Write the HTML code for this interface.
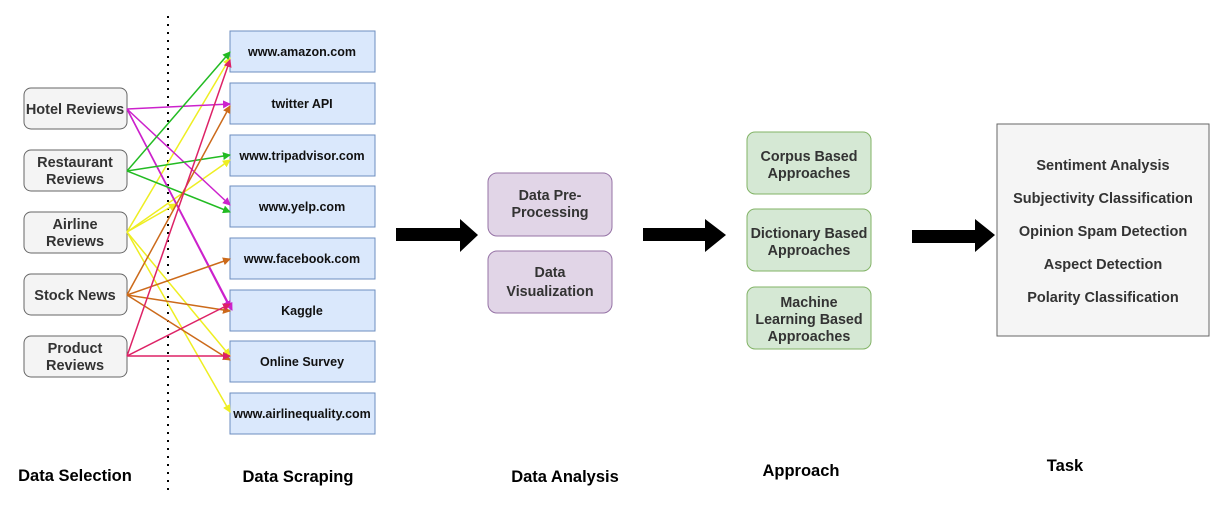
<!DOCTYPE html>
<html><head><style>
body{margin:0;background:#fff;}
svg text{font-family:"Liberation Sans",sans-serif;font-weight:bold;}
</style></head><body>
<svg width="1224" height="505" viewBox="0 0 1224 505" xmlns="http://www.w3.org/2000/svg">
<defs>
<marker id="mg" markerWidth="8" markerHeight="8" refX="7" refY="4" orient="auto" markerUnits="userSpaceOnUse"><path d="M0,0L8,4L0,8z" fill="#22bb22"/></marker>
<marker id="mm" markerWidth="8" markerHeight="8" refX="7" refY="4" orient="auto" markerUnits="userSpaceOnUse"><path d="M0,0L8,4L0,8z" fill="#cc22cc"/></marker>
<marker id="my" markerWidth="8" markerHeight="8" refX="7" refY="4" orient="auto" markerUnits="userSpaceOnUse"><path d="M0,0L8,4L0,8z" fill="#eeee22"/></marker>
<marker id="mo" markerWidth="8" markerHeight="8" refX="7" refY="4" orient="auto" markerUnits="userSpaceOnUse"><path d="M0,0L8,4L0,8z" fill="#cc6a1a"/></marker>
<marker id="mr" markerWidth="8" markerHeight="8" refX="7" refY="4" orient="auto" markerUnits="userSpaceOnUse"><path d="M0,0L8,4L0,8z" fill="#dd2266"/></marker>
</defs>
<line x1="168" y1="16" x2="168" y2="490" stroke="#000" stroke-width="2" stroke-dasharray="2,6"/>
<g font-size="14.5" text-anchor="middle" fill="#333">
<g fill="#f4f4f4" stroke="#666" stroke-width="1">
<rect x="24" y="88" width="103" height="41" rx="7"/>
<rect x="24" y="150" width="103" height="41" rx="7"/>
<rect x="24" y="212" width="103" height="41" rx="7"/>
<rect x="24" y="274" width="103" height="41" rx="7"/>
<rect x="24" y="336" width="103" height="41" rx="7"/>
</g>
<text x="75" y="114">Hotel Reviews</text>
<text x="75" y="167">Restaurant</text><text x="75" y="184">Reviews</text>
<text x="75" y="229">Airline</text><text x="75" y="246">Reviews</text>
<text x="75" y="300">Stock News</text>
<text x="75" y="353">Product</text><text x="75" y="370">Reviews</text>
</g>
<g fill="#dae8fc" stroke="#6c8ebf" stroke-width="1">
<rect x="230" y="31" width="145" height="41"/>
<rect x="230" y="83" width="145" height="41"/>
<rect x="230" y="135" width="145" height="41"/>
<rect x="230" y="186" width="145" height="41"/>
<rect x="230" y="238" width="145" height="41"/>
<rect x="230" y="290" width="145" height="41"/>
<rect x="230" y="341" width="145" height="41"/>
<rect x="230" y="393" width="145" height="41"/>
</g>
<g font-size="12.5" text-anchor="middle" fill="#111">
<text x="302" y="56">www.amazon.com</text>
<text x="302" y="108">twitter API</text>
<text x="302" y="160">www.tripadvisor.com</text>
<text x="302" y="211">www.yelp.com</text>
<text x="302" y="263">www.facebook.com</text>
<text x="302" y="315">Kaggle</text>
<text x="302" y="366">Online Survey</text>
<text x="302" y="418">www.airlinequality.com</text>
</g>
<g fill="none" stroke-width="1.5">
<g stroke="#eeee22" marker-end="url(#my)">
<path d="M127,232L230,58"/><path d="M127,232L230,160"/><path d="M127,232L176,204"/><path d="M127,232L230,356"/><path d="M127,232L230,412"/>
</g>
<g stroke="#cc22cc" marker-end="url(#mm)">
<path d="M127,109L230,104"/><path d="M127,109L230,205"/><path d="M127,109L230,308"/><path d="M127,109L232,310"/>
</g>
<g stroke="#22bb22" marker-end="url(#mg)">
<path d="M127,171L230,52"/><path d="M127,171L230,155"/><path d="M127,171L230,212"/>
</g>
<g stroke="#cc6a1a" marker-end="url(#mo)">
<path d="M127,295L230,106"/><path d="M127,295L230,259"/><path d="M127,295L230,311"/><path d="M127,295L230,360"/>
</g>
<g stroke="#dd2266" marker-end="url(#mr)">
<path d="M127,356L230,60"/><path d="M127,356L230,304"/><path d="M127,356L230,356"/>
</g>
</g>
<g fill="#000">
<path d="M396,228H460V219L478,235L460,252V241H396Z"/>
<path d="M643,228H705V219L726,235L705,252V241H643Z"/>
<path d="M912,230H975V219L995,235L975,252V243H912Z"/>
</g>
<g fill="#e1d5e7" stroke="#9673a6">
<rect x="488" y="173" width="124" height="63" rx="9"/>
<rect x="488" y="251" width="124" height="62" rx="9"/>
</g>
<g fill="#d5e8d4" stroke="#82b366">
<rect x="747" y="132" width="124" height="62" rx="8"/>
<rect x="747" y="209" width="124" height="62" rx="8"/>
<rect x="747" y="287" width="124" height="62" rx="8"/>
</g>
<rect x="997" y="124" width="212" height="212" fill="#f5f5f5" stroke="#666"/>
<g font-size="14.3" text-anchor="middle" fill="#333">
<text x="550" y="200">Data Pre-</text><text x="550" y="217">Processing</text>
<text x="550" y="277">Data</text><text x="550" y="296">Visualization</text>
<text x="809" y="161">Corpus Based</text><text x="809" y="178">Approaches</text>
<text x="809" y="238">Dictionary Based</text><text x="809" y="255">Approaches</text>
<text x="809" y="307">Machine</text><text x="809" y="324">Learning Based</text><text x="809" y="341">Approaches</text>
</g>
<g font-size="14.5" text-anchor="middle" fill="#333">
<text x="1103" y="170">Sentiment Analysis</text>
<text x="1103" y="203">Subjectivity Classification</text>
<text x="1103" y="236">Opinion Spam Detection</text>
<text x="1103" y="269">Aspect Detection</text>
<text x="1103" y="302">Polarity Classification</text>
</g>
<g font-size="16.5" text-anchor="middle" fill="#000">
<text x="75" y="481">Data Selection</text>
<text x="298" y="482">Data Scraping</text>
<text x="565" y="482">Data Analysis</text>
<text x="801" y="476">Approach</text>
<text x="1065" y="471">Task</text>
</g>
</svg>
</body></html>
